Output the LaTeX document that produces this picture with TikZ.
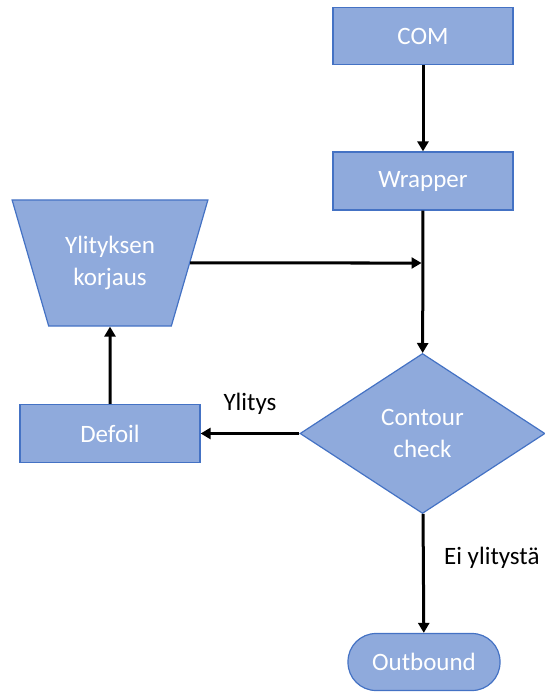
\documentclass[tikz,border=0pt]{standalone}
\usepackage{fontspec}
\setmainfont{Carlito}
\usetikzlibrary{arrows.meta, shapes.geometric, positioning}
\definecolor{boxfill}{HTML}{8FAADC}
\definecolor{boxline}{HTML}{4472C4}
\tikzset{
  box/.style={rectangle, draw=boxline, fill=boxfill, line width=1.2pt, text=white,
    minimum width=180pt, minimum height=57pt, align=center,
    font=\fontsize{25}{32}\selectfont},
  flow/.style={line width=3pt, -{Triangle[length=10pt,width=11pt]}},
  lbl/.style={text=black, font=\fontsize{25}{31}\selectfont}
}
\begin{document}
\begin{tikzpicture}[x=1pt, y=-1pt]
\useasboundingbox (0,0) rectangle (545,692);

\node (com)[box] at (423,36) {COM};
\node (wrap)[box, minimum height=58pt] at (423,181) {Wrapper};
\node (korj)[box, trapezium, shape border rotate=180, trapezium angle=64.5,
  trapezium stretches=true, minimum width=196pt, minimum height=126pt] at (110,263) {Ylityksen\\korjaus};
\node (check)[box, diamond, aspect=1.53, inner sep=0pt, minimum width=245pt,
  minimum height=160pt] at (422.5,433.5) {Contour\\check};
\node (defoil)[box, minimum height=58pt] at (110,433.5) {Defoil};
\node (out)[box, rounded corners=28pt, minimum width=152pt] at (424,662) {Outbound};

\coordinate (join) at (korj -| wrap);

\draw[flow] (com) -- (wrap);
\draw[flow] (wrap) -- (check);
\draw[flow, shorten >=1.5pt] (korj) -- (join);
\draw[flow] (check) -- node[lbl, above=14pt] {Ylitys} (defoil);
\draw[flow] (defoil) -- (korj);
\draw[flow] (check) -- node[lbl, right=16pt, pos=0.37] {Ei ylitystä} (out);
\end{tikzpicture}
\end{document}
